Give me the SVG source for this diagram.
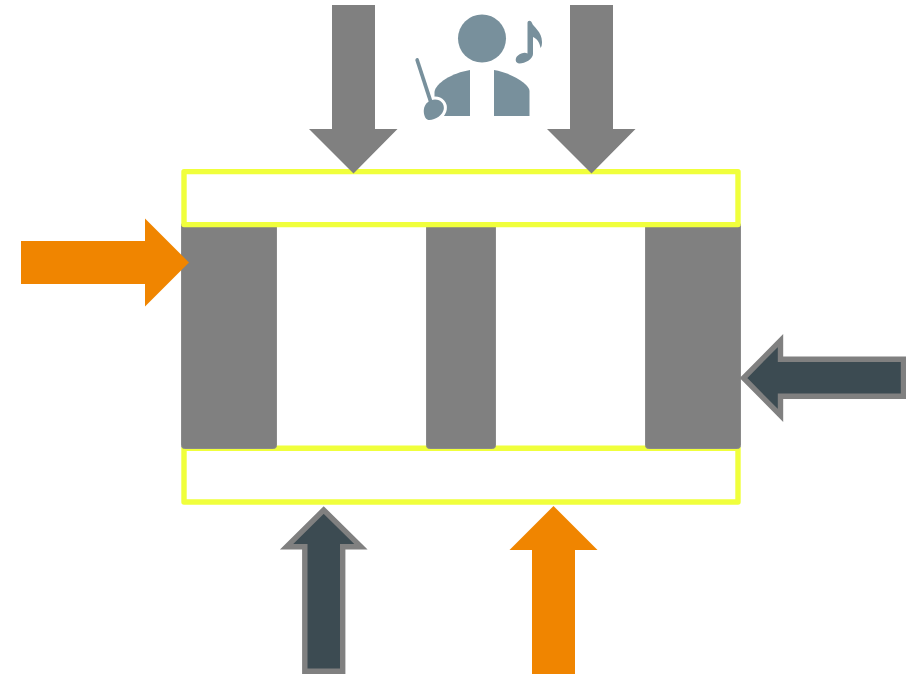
<svg xmlns="http://www.w3.org/2000/svg" width="906" height="678" viewBox="0 0 906 678">
<defs><style>
.col{fill:#808080;stroke:#8a8a8a;stroke-width:1;}
.beam{fill:#fff;stroke:#f0ff3c;stroke-width:5.4;stroke-linejoin:round;}
.grey{fill:#808080;}
.orange{fill:#f08500;}
.dark{fill:#3c4b52;stroke:#808080;stroke-width:5.4;stroke-linejoin:miter;stroke-miterlimit:10;}
.ic{fill:#78909c;}
</style></defs>
<rect width="906" height="678" fill="#fff"/>
<g id="beam-bottom"><rect class="beam" x="184" y="448.300" width="554" height="53.700"/></g>
<g id="columns">
<rect id="column-left" class="col" x="181.500" y="222.500" width="95" height="226" rx="3"/>
<rect id="column-middle" class="col" x="426.500" y="222.500" width="69" height="226" rx="3"/>
<rect id="column-right" class="col" x="645.500" y="222.500" width="95" height="226" rx="3"/>
</g>
<g id="beam-top"><rect class="beam" x="184" y="171.600" width="554" height="53"/></g>
<g id="conductor">
<circle class="ic" cx="482" cy="38.500" r="24"/>
<path class="ic" d="M470 70V116H434.500V92C435.500 83 452 73 470 70Z"/>
<path class="ic" d="M494 70C512 73 529.500 84 529.500 91V116H494Z"/>
<path d="M423.800 110C424.500 103 430 99.500 435 99.500C441 99.500 444.500 104 443.800 109C443 115 435 120.500 428.500 120C425 119.500 423.500 114 423.800 110Z" fill="#78909c" stroke="#fff" stroke-width="6" paint-order="stroke"/>
<path class="ic" d="M415.400 60.500C415 58 418 57 418.900 59.500L432.500 101L429 102.500Z"/>
<path class="ic" d="M527.500 23C527.500 20 531 20 532 23C533 27 542 31 542 42C542 45 541.500 47 540.500 48C540 43 537 38.500 533 37V54C533 59 525 63.500 519.500 63.500C515 63.500 514.500 58 518 55.500C521 53 525 52 527.500 53.500Z"/>
</g>
<g id="connectors">
<path id="arrow-top-left" class="grey" d="M332 5H375V129H397.500L353.500 173.500L309 129H332Z"/>
<path id="arrow-top-right" class="grey" d="M570 5H613V129H635.500L591.500 173.500L547 129H570Z"/>
<path id="arrow-left" class="orange" d="M21 241H145V218.500L189 262.500L145 306.500V284H21Z"/>
<path id="arrow-right" class="dark" d="M903.500 359.200V396.300H780.500V415.500L743.500 378L780.500 340.500V359.200Z"/>
<path id="arrow-bottom-left" class="dark" d="M304.800 671.300V546.800H286.500L323.700 510L361 546.800H342.700V671.300Z"/>
<path id="arrow-bottom-right" class="orange" d="M532 674V550H509.500L553.500 506L597.500 550H575V674Z"/>
</g>
</svg>
